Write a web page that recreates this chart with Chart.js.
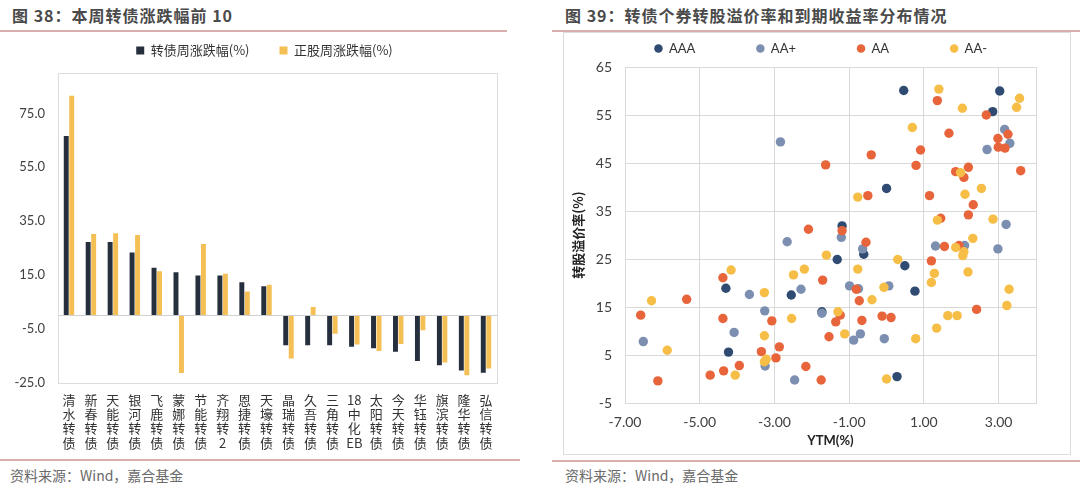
<!DOCTYPE html>
<html>
<head>
<meta charset="utf-8">
<script src="https://cdn.jsdelivr.net/npm/chart.js@4.4.1/dist/chart.umd.min.js"></script>
<style>
body { margin: 0; background: #fff; width: 1080px; height: 489px; position: relative; overflow: hidden; font-family: "Noto Sans CJK SC", sans-serif; }
.title { position: absolute; top: 3px; font-size: 16px; font-weight: bold; color: #4a4a4a; letter-spacing: 1px; }
.line { position: absolute; height: 1.5px; background: #d9aeae; }
.src { position: absolute; top: 465px; font-size: 14px; color: #6a6a6a; }
#boxL { position: absolute; left: 0; top: 14px; width: 540px; height: 438px; }
#boxR { position: absolute; left: 563px; top: 32px; width: 508px; height: 423px; border: 1px solid #dcdcdc; box-sizing: border-box; }
</style>
</head>
<body>
<div class="title" style="left:12px">图 38：本周转债涨跌幅前 10</div>
<div class="title" style="left:565px">图 39：转债个券转股溢价率和到期收益率分布情况</div>
<div class="line" style="left:0;width:507px;top:30px"></div>
<div class="line" style="left:552px;width:528px;top:30px"></div>
<div class="line" style="left:0;width:520px;top:459px"></div>
<div class="line" style="left:552px;width:528px;top:460px"></div>
<div class="src" style="left:10px">资料来源：Wind，嘉合基金</div>
<div class="src" style="left:565px">资料来源：Wind，嘉合基金</div>
<div id="boxL"><canvas id="barChart"></canvas></div>
<div id="boxR"><canvas id="scatterChart"></canvas></div>
<script>
// 图38 数据
const bondNames = ['清水转债', '新春转债', '天能转债', '银河转债', '飞鹿转债', '蒙娜转债', '节能转债', '齐翔转2', '恩捷转债', '天壕转债',
    '晶瑞转债', '久吾转债', '三角转债', '18中化EB', '太阳转债', '今天转债', '华钰转债', '旗滨转债', '隆华转债', '弘信转债'];
const bondChg = [66.6, 27.3, 27.3, 23.4, 17.7, 16.0, 14.8, 14.8, 12.3, 10.8,
    -11.1, -11.1, -11.1, -11.6, -12.2, -13.5, -16.9, -18.5, -20.4, -21.3];
const stockChg = [81.6, 30.2, 30.5, 29.9, 16.4, -21.4, 26.5, 15.5, 8.9, 11.4,
    -16.0, 3.1, -6.8, -10.8, -13.2, -10.6, -5.5, -17.5, -22.2, -19.7];
const barTicks = [-25, -5, 15, 35, 55, 75];

// 图39 数据 (YTM, 转股溢价率)
const aaaYtm = [0.46, 3.03, 2.84, 0.0, -1.19, -0.61, -1.32, 0.49, 0.76, -1.73, 0.28, -4.30, -2.55, -4.23];
const aaaPrem = [60.1, 60.0, 55.7, 39.7, 31.9, 26.0, 24.9, 23.6, 18.3, 14.0, 0.5, 18.9, 17.5, 5.6];
const aapYtm = [-2.84, -2.66, 3.16, 3.30, 2.69, 3.20, -1.21, -0.64, -0.99, -0.75, 0.06, 1.31, 2.09, 2.98,
    -1.73, -0.88, -0.70, -0.06, -3.67, -2.29, -3.26, -4.08, -6.51, -3.25, -2.46];
const aapPrem = [49.4, 28.6, 52.0, 49.1, 47.8, 32.2, 29.5, 27.1, 19.4, 18.8, 19.4, 27.7, 27.8, 27.1,
    13.7, 8.1, 9.4, 8.4, 17.6, 18.7, 14.2, 9.7, 7.8, 2.7, -0.2];
const aaYtm = [-2.09, 1.36, 2.67, 1.67, 3.25, 2.98, 2.99, 3.17, 0.91, -0.41, -1.63, 0.79, 1.85, 2.19, 2.07, 3.59,
    -0.50, 1.15, 2.32, 2.19, 1.45, -1.19, -0.55, 1.55, 1.94, -1.71, -0.81, -0.73, 1.20, 2.41, -1.24, -1.36,
    -0.66, -1.54, -0.12, 0.12, -2.16, -1.75, -4.38, -5.35, -6.58, -4.38, -3.07, -3.35, -2.87, -2.96, -3.94,
    -4.36, -4.72, -6.12];
const aaPrem = [31.2, 58.0, 55.0, 51.2, 51.0, 50.1, 48.3, 48.1, 47.7, 46.7, 44.6, 44.5, 43.2, 44.1, 42.0, 43.4,
    38.2, 38.2, 36.3, 34.2, 33.5, 30.9, 28.5, 27.6, 27.8, 20.6, 18.7, 16.3, 24.6, 14.5, 13.3, 11.9,
    12.2, 8.8, 13.1, 12.8, 2.6, -0.2, 21.1, 16.6, 13.3, 12.6, 12.1, 5.7, 6.7, 4.4, 2.8,
    1.7, 0.8, -0.4];
const aamYtm = [1.40, 2.03, 3.56, 3.48, 0.69, 1.98, 2.54, -0.77, 2.10, 1.36, 2.85, -1.61, -2.20, -0.77, -0.39,
    0.30, -0.07, 1.28, 1.20, 2.18, 3.28, 3.22, 1.64, 1.89, 1.34, 0.78, 1.85, 2.07, 2.04, 2.31, -1.30, -1.12,
    0.0, -4.16, -3.27, -2.49, -6.29, -2.54, -3.27, -5.87, -3.22, -3.27, -4.05];
const aamPrem = [60.4, 56.4, 58.5, 56.6, 52.4, 43.0, 39.7, 37.9, 38.5, 33.1, 33.3, 25.8, 22.9, 22.9, 16.5,
    24.9, 19.1, 22.0, 20.1, 22.3, 18.7, 15.3, 13.2, 13.2, 10.6, 8.4, 27.4, 26.5, 25.7, 29.3, 14.0, 9.4,
    0.0, 22.7, 18.0, 21.7, 16.3, 12.6, 9.0, 6.0, 4.1, 3.6, 0.8];
const ytmTicks = [-7, -5, -3, -1, 1, 3];

const cjk = '"Noto Sans CJK SC", sans-serif';
const num = 'Lato, "Noto Sans CJK SC", sans-serif';

// 画图区边框
const plotFrame = {
    id: 'plotFrame',
    beforeDatasetsDraw(chart, args, opts) {
        const a = chart.chartArea;
        const ctx = chart.ctx;
        ctx.save();
        ctx.strokeStyle = opts.color;
        ctx.lineWidth = 1;
        ctx.strokeRect(Math.round(a.left) + 0.5, Math.round(a.top) + 0.5, Math.round(a.width), Math.round(a.height));
        ctx.restore();
    }
};

// 图例下方多留一点空
const legendGap = {
    id: 'legendGap',
    beforeInit(chart, args, opts) {
        const fit = chart.legend.fit;
        chart.legend.fit = function () {
            fit.call(this);
            this.height += opts.extra || 0;
        };
    }
};

function splitLabel(name) {
    return name.match(/[A-Za-z0-9]+|./g);
}

function toPoints(xs, ys) {
    return xs.map((x, i) => ({ x: x, y: ys[i] }));
}

function padLegend(extra, tail) {
    return function (chart) {
        const items = Chart.defaults.plugins.legend.labels.generateLabels(chart);
        items.sort((a, b) => a.datasetIndex - b.datasetIndex);
        items.forEach((it, i) => {
            it.text = it.text + (i < items.length - 1 ? extra : tail);
        });
        return items;
    };
}

new Chart(document.getElementById('barChart'), {
    type: 'bar',
    data: {
        labels: bondNames.map(splitLabel),
        datasets: [{
            label: '转债周涨跌幅(%)',
            data: bondChg,
            backgroundColor: '#262f3d',
            barPercentage: 0.9,
            categoryPercentage: 0.5
        }, {
            label: '正股周涨跌幅(%)',
            data: stockChg,
            backgroundColor: '#f4bf55',
            barPercentage: 0.9,
            categoryPercentage: 0.5
        }]
    },
    options: {
        responsive: true,
        maintainAspectRatio: false,
        animation: false,
        layout: { padding: { left: 0, right: 43, top: 0, bottom: 0 } },
        plugins: {
            legend: {
                fullSize: false,
                labels: {
                    boxWidth: 8,
                    boxHeight: 8,
                    padding: 30,
                    color: '#333',
                    font: { size: 13, family: cjk },
                    generateLabels: padLegend('', '\u2003\u2003')
                }
            },
            legendGap: { extra: 6 },
            tooltip: { enabled: false },
            plotFrame: { color: '#dcdcdc' }
        },
        scales: {
            x: {
                grid: { display: false },
                border: { display: false },
                ticks: {
                    autoSkip: false,
                    maxRotation: 0,
                    minRotation: 0,
                    padding: 2,
                    color: '#333',
                    font: { size: 13, family: cjk, lineHeight: 1.1 }
                }
            },
            y: {
                min: -25,
                max: 90,
                afterBuildTicks: s => {
                    s.ticks = barTicks.concat([0]).sort((a, b) => a - b).map(v => ({ value: v }));
                },
                afterFit: s => { s.width = 58; },
                grid: {
                    drawTicks: false,
                    color: c => (c.tick && c.tick.value === 0) ? '#d0d0d0' : 'rgba(0,0,0,0)'
                },
                border: { display: false },
                ticks: {
                    padding: 13,
                    color: '#404040',
                    font: { size: 13, family: num },
                    callback: v => v === 0 ? '' : v.toFixed(1)
                }
            }
        }
    },
    plugins: [plotFrame, legendGap]
});

new Chart(document.getElementById('scatterChart'), {
    type: 'scatter',
    data: {
        datasets: [
            { label: 'AAA', data: toPoints(aaaYtm, aaaPrem), backgroundColor: '#2f4b71', order: 4 },
            { label: 'AA+', data: toPoints(aapYtm, aapPrem), backgroundColor: '#7d8fb1', order: 3 },
            { label: 'AA', data: toPoints(aaYtm, aaPrem), backgroundColor: '#e8643b', order: 2 },
            { label: 'AA-', data: toPoints(aamYtm, aamPrem), backgroundColor: '#f6be46', order: 1 }
        ]
    },
    options: {
        responsive: true,
        maintainAspectRatio: false,
        animation: false,
        elements: { point: { radius: 4.7, borderWidth: 0, hoverRadius: 4.7 } },
        layout: { padding: { left: 0, right: 34, top: 0, bottom: 7 } },
        plugins: {
            legend: {
                fullSize: false,
                labels: {
                    usePointStyle: true,
                    pointStyle: 'circle',
                    boxWidth: 8,
                    boxHeight: 6,
                    padding: 9,
                    color: '#333',
                    font: { size: 13, family: num },
                    generateLabels: padLegend('\u2003\u2003\u2003\u2003\u2003\u2009\u2009', '\u2003\u2003')
                }
            },
            legendGap: { extra: 2 },
            tooltip: { enabled: false },
            plotFrame: { color: '#d9d9d9' }
        },
        scales: {
            x: {
                min: -7,
                max: 4,
                afterBuildTicks: s => { s.ticks = ytmTicks.map(v => ({ value: v })); },
                afterFit: s => { s.height = 44; },
                grid: { drawTicks: false, color: '#d9d9d9' },
                border: { display: false },
                ticks: {
                    padding: 12,
                    color: '#404040',
                    font: { size: 14, family: num, lineHeight: 1 },
                    callback: v => v.toFixed(2)
                },
                title: {
                    display: true,
                    text: 'YTM(%)',
                    color: '#222',
                    font: { size: 13, weight: 'bold', family: num, lineHeight: 1 },
                    padding: { top: 0, bottom: 0 }
                }
            },
            y: {
                min: -5,
                max: 65,
                afterFit: s => { s.width = 61; },
                grid: { drawTicks: false, color: '#d9d9d9' },
                border: { display: false },
                ticks: {
                    stepSize: 10,
                    padding: 13,
                    color: '#404040',
                    font: { size: 14, family: num }
                },
                title: {
                    display: true,
                    text: '转股溢价率(%)',
                    color: '#222',
                    font: { size: 13, weight: 'bold', family: cjk },
                    padding: { top: 6, bottom: 0 }
                }
            }
        }
    },
    plugins: [plotFrame, legendGap]
});
</script>
</body>
</html>
